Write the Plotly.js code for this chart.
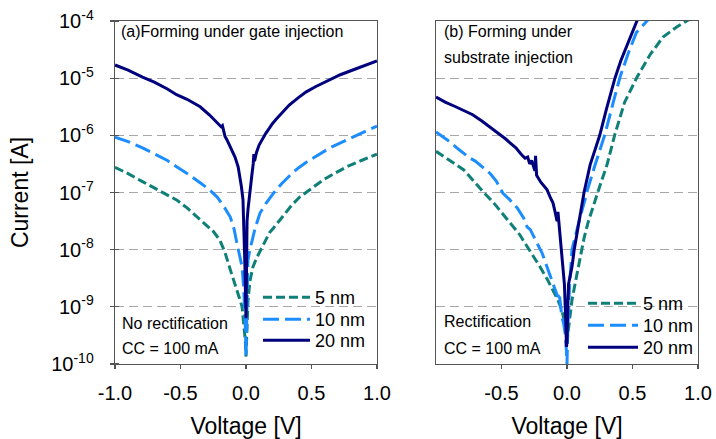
<!DOCTYPE html>
<html>
<head>
<meta charset="utf-8">
<script src="https://cdn.plot.ly/plotly-3.0.1.min.js"></script>
<style>
  html, body { margin: 0; padding: 0; background: #fff; }
  #chart { width: 716px; height: 439px; }
</style>
</head>
<body>
<div id="chart"></div>
<script>
// I–V sweeps after forming, currents stored as log10(I [A])

// (a) forming under gate injection
const gate5_V = [-1.00,-0.90,-0.79,-0.70,-0.60,-0.53,-0.45,-0.37,-0.30,-0.25,-0.20,-0.16,-0.12,-0.09,-0.07,-0.05,-0.03,-0.015,-0.005,0.000,0.005,0.015,0.03,0.053,0.08,0.107,0.13,0.18,0.21,0.26,0.30,0.35,0.41,0.50,0.59,0.68,0.77,0.88,1.00];
const gate5_logI = [-6.56,-6.67,-6.81,-6.92,-7.03,-7.13,-7.27,-7.43,-7.57,-7.68,-7.83,-8.05,-8.35,-8.55,-8.70,-8.85,-9.00,-9.30,-9.60,-9.87,-9.40,-8.90,-8.55,-8.30,-8.15,-8.03,-7.95,-7.70,-7.62,-7.48,-7.36,-7.22,-7.08,-6.93,-6.78,-6.66,-6.55,-6.44,-6.33];

const gate10_V = [-1.00,-0.90,-0.79,-0.70,-0.60,-0.53,-0.44,-0.35,-0.28,-0.22,-0.17,-0.12,-0.09,-0.07,-0.05,-0.03,-0.018,-0.01,-0.004,0.000,0.004,0.01,0.015,0.03,0.046,0.07,0.107,0.15,0.21,0.27,0.34,0.40,0.46,0.55,0.64,0.75,0.85,0.93,1.00];
const gate10_logI = [-6.03,-6.11,-6.22,-6.33,-6.44,-6.55,-6.68,-6.83,-6.95,-7.08,-7.24,-7.43,-7.65,-7.88,-8.08,-8.30,-8.65,-9.00,-9.40,-9.87,-9.20,-8.60,-8.18,-8.00,-7.83,-7.62,-7.36,-7.20,-7.01,-6.85,-6.69,-6.57,-6.47,-6.35,-6.22,-6.10,-5.99,-5.91,-5.84];

const gate20_V = [-1.00,-0.90,-0.79,-0.70,-0.60,-0.53,-0.45,-0.35,-0.28,-0.22,-0.19,-0.18,-0.16,-0.145,-0.11,-0.084,-0.06,-0.046,-0.035,-0.023,-0.015,-0.008,-0.003,0.000,0.003,0.008,0.015,0.03,0.045,0.055,0.06,0.065,0.08,0.10,0.12,0.15,0.18,0.20,0.23,0.28,0.33,0.40,0.46,0.53,0.60,0.66,0.72,0.80,0.86,0.93,1.00];
const gate20_logI = [-4.77,-4.86,-4.98,-5.07,-5.19,-5.29,-5.37,-5.50,-5.64,-5.77,-5.85,-5.83,-6.02,-6.08,-6.25,-6.38,-6.55,-6.73,-6.90,-7.13,-7.60,-8.30,-8.90,-9.20,-8.60,-7.50,-7.30,-6.95,-6.69,-6.50,-6.33,-6.45,-6.30,-6.17,-6.08,-5.97,-5.87,-5.80,-5.72,-5.59,-5.47,-5.34,-5.24,-5.15,-5.07,-5.01,-4.94,-4.87,-4.82,-4.76,-4.70];

// (b) forming under substrate injection
const sub5_V = [-1.00,-0.90,-0.79,-0.72,-0.64,-0.56,-0.49,-0.42,-0.36,-0.336,-0.26,-0.206,-0.15,-0.107,-0.07,-0.04,-0.02,0.000,0.01,0.02,0.038,0.07,0.10,0.13,0.16,0.214,0.26,0.305,0.366,0.44,0.535,0.634,0.733,0.84,0.915,0.95];
const sub5_logI = [-6.28,-6.43,-6.60,-6.78,-6.99,-7.18,-7.37,-7.56,-7.74,-7.83,-8.10,-8.30,-8.52,-8.70,-8.88,-9.05,-9.25,-9.60,-9.40,-9.15,-8.88,-8.50,-8.13,-7.80,-7.53,-7.13,-6.82,-6.52,-5.98,-5.42,-4.98,-4.59,-4.28,-4.10,-4.00,-3.95];

const sub10_V = [-1.00,-0.95,-0.89,-0.83,-0.78,-0.74,-0.70,-0.65,-0.59,-0.54,-0.49,-0.44,-0.38,-0.33,-0.305,-0.28,-0.25,-0.23,-0.19,-0.16,-0.13,-0.10,-0.07,-0.06,-0.04,-0.025,-0.015,-0.005,0.000,0.005,0.012,0.02,0.038,0.07,0.10,0.137,0.15,0.214,0.25,0.29,0.35,0.405,0.47,0.53,0.61,0.63];
const sub10_logI = [-5.94,-6.02,-6.12,-6.24,-6.33,-6.40,-6.45,-6.55,-6.66,-6.80,-7.01,-7.12,-7.27,-7.45,-7.60,-7.65,-7.80,-7.88,-8.06,-8.25,-8.47,-8.65,-8.83,-8.75,-9.17,-9.30,-9.45,-9.75,-10.0,-9.50,-9.00,-8.60,-8.00,-7.70,-7.43,-7.13,-7.00,-6.52,-6.25,-5.98,-5.45,-4.98,-4.55,-4.20,-4.00,-3.95];

const sub20_V = [-1.00,-0.93,-0.85,-0.79,-0.72,-0.65,-0.59,-0.52,-0.47,-0.435,-0.39,-0.35,-0.32,-0.30,-0.285,-0.27,-0.255,-0.245,-0.240,-0.232,-0.20,-0.153,-0.125,-0.107,-0.09,-0.076,-0.069,-0.055,-0.046,-0.035,-0.02,-0.01,-0.004,0.000,0.006,0.012,0.025,0.038,0.055,0.076,0.10,0.13,0.176,0.21,0.25,0.30,0.366,0.41,0.46,0.50,0.535,0.56];
const sub20_logI = [-5.33,-5.42,-5.50,-5.56,-5.64,-5.75,-5.85,-5.97,-6.06,-6.13,-6.22,-6.33,-6.40,-6.38,-6.50,-6.44,-6.58,-6.62,-6.36,-6.70,-6.82,-6.95,-7.10,-7.18,-7.35,-7.50,-7.34,-7.70,-7.88,-8.23,-8.60,-9.20,-9.70,-9.60,-9.00,-8.60,-8.45,-8.30,-8.00,-7.71,-7.35,-7.00,-6.52,-6.28,-6.00,-5.55,-5.00,-4.70,-4.42,-4.20,-4.00,-3.85];

const seriesNames = ['5 nm', '10 nm', '20 nm'];
const seriesColors = ['#0f8078', '#1c8dff', '#00007f'];
const seriesDash = ['9px,4px', '16px,6px', 'solid'];

const xTickVals = [-1, -0.5, 0, 0.5, 1];
const xTickText = ['-1.0', '-0.5', '0.0', '0.5', '1.0'];
const yTickExp = [-10, -9, -8, -7, -6, -5, -4];

const FONT = '"Liberation Sans", Arial, Helvetica, sans-serif';
const toAmp = arr => arr.map(v => Math.pow(10, v));

function trace(V, logI, i, xa, ya, legendId) {
  return {
    x: V, y: toAmp(logI),
    xaxis: xa, yaxis: ya,
    type: 'scatter', mode: 'lines',
    name: seriesNames[i],
    legend: legendId,
    line: { color: seriesColors[i], width: 3, dash: seriesDash[i] },
    hoverinfo: 'x+y'
  };
}

// one legend entry per legend box so each row can be placed on its own
const data = [
  trace(gate5_V, gate5_logI, 0, 'x', 'y', 'legend'),
  trace(gate10_V, gate10_logI, 1, 'x', 'y', 'legend2'),
  trace(gate20_V, gate20_logI, 2, 'x', 'y', 'legend3'),
  trace(sub5_V, sub5_logI, 0, 'x2', 'y2', 'legend4'),
  trace(sub10_V, sub10_logI, 1, 'x2', 'y2', 'legend5'),
  trace(sub20_V, sub20_logI, 2, 'x2', 'y2', 'legend6')
];

const W = 716, H = 439;
const px = v => v / W;          // horizontal pixel -> paper
const py = v => 1 - v / H;      // vertical pixel -> paper

const frame = { showline: true, linecolor: '#555', linewidth: 1.3, mirror: true, zeroline: false };

const xBase = Object.assign({}, frame, {
  range: [-1, 1], tickmode: 'array',
  ticks: 'outside', ticklen: 4, tickcolor: '#555', tickwidth: 1.3,
  showgrid: false,
  tickfont: { family: FONT, size: 20, color: '#000' },
  ticklabelstandoff: 7,
  title: { text: 'Voltage [V]', font: { family: FONT, size: 23, color: '#000' }, standoff: 17 }
});

const yBase = Object.assign({}, frame, {
  type: 'log', range: [-10, -4],
  domain: [py(364), py(21)],
  tickmode: 'array',
  tickvals: yTickExp.map(e => Math.pow(10, e)),
  showgrid: true, gridcolor: '#a8a8a8', gridwidth: 1.3, griddash: '9px,5px'
});

function legendAt(left, top, itemwidth) {
  return {
    x: px(left), y: py(top), xanchor: 'left', yanchor: 'top',
    bgcolor: 'rgba(0,0,0,0)', borderwidth: 0,
    font: { family: FONT, size: 18, color: '#000' },
    itemwidth: itemwidth, tracegroupgap: 0
  };
}

const layout = {
  width: W, height: H,
  margin: { l: 0, r: 0, t: 0, b: 0 },
  paper_bgcolor: '#fff', plot_bgcolor: '#fff',
  font: { family: FONT, color: '#000' },
  showlegend: true,
  xaxis: Object.assign({}, xBase, {
    domain: [px(115), px(377)], anchor: 'y',
    tickvals: xTickVals, ticktext: xTickText
  }),
  yaxis: Object.assign({}, yBase, {
    anchor: 'x',
    ticktext: yTickExp.map(e => '10<sup>' + e + '</sup>'),
    ticks: 'outside', ticklen: 4, tickcolor: '#555', tickwidth: 1.3,
    minor: { tickmode: 'array', tickvals: yTickExp.map(e => Math.pow(10, e)),
             ticks: 'inside', ticklen: 4, tickcolor: '#555', tickwidth: 1.3, showgrid: false },
    tickfont: { family: FONT, size: 20, color: '#000' },
    ticklabelstandoff: 12,
    title: { text: 'Current [A]', font: { family: FONT, size: 23, color: '#000' }, standoff: 16 }
  }),
  xaxis2: Object.assign({}, xBase, {
    domain: [px(436), px(698)], anchor: 'y2',
    tickvals: xTickVals.slice(1), ticktext: xTickText.slice(1)
  }),
  yaxis2: Object.assign({}, yBase, {
    anchor: 'x2', showticklabels: false, ticks: ''
  }),
  legend:  legendAt(258, 279, 47),
  legend2: legendAt(258, 301, 47),
  legend3: legendAt(258, 322, 47),
  legend4: legendAt(583, 285, 50),
  legend5: legendAt(583, 307, 50),
  legend6: legendAt(583, 329, 50),
  annotations: [
    { text: '(a)Forming under gate injection', x: px(120), y: py(31) },
    { text: '(b) Forming under', x: px(443), y: py(31) },
    { text: 'substrate injection', x: px(443), y: py(58) },
    { text: 'No rectification', x: px(121), y: py(323) },
    { text: 'CC = 100 mA', x: px(121), y: py(348) },
    { text: 'Rectification', x: px(443), y: py(321) },
    { text: 'CC = 100 mA', x: px(443), y: py(348) }
  ].map(a => Object.assign({
    xref: 'paper', yref: 'paper', xanchor: 'left', yanchor: 'middle',
    showarrow: false, borderpad: 0,
    font: { family: FONT, size: 16, color: '#000' }
  }, a))
};

Plotly.newPlot('chart', data, layout, { displayModeBar: false, staticPlot: true });
</script>
</body>
</html>
